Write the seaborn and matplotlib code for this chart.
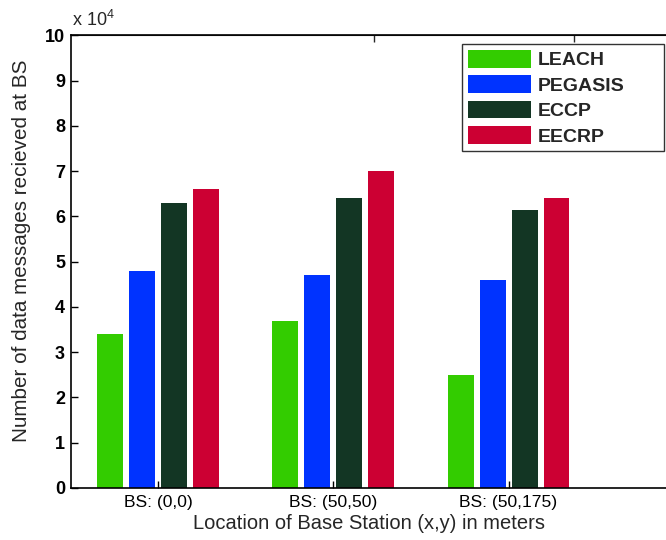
import pandas as pd
import seaborn as sns
import matplotlib.pyplot as plt
from matplotlib.ticker import FuncFormatter

locations = ["BS: (0,0)", "BS: (50,50)", "BS: (50,175)"]
protocols = ["LEACH", "PEGASIS", "ECCP", "EECRP"]
leach = [34000, 37000, 25000]
pegasis = [48000, 47000, 46000]
eccp = [63000, 64000, 61500]
eecrp = [66000, 70000, 64000]
colors = ["#33cc00", "#0033ff", "#133624", "#cc0033"]

rows = []
for proto, vals in zip(protocols, [leach, pegasis, eccp, eecrp]):
    for loc, v in zip(locations, vals):
        rows.append({"loc": loc, "proto": proto, "msgs": v})
df = pd.DataFrame(rows)

sns.set_style("white")
plt.rcParams["font.family"] = ["Liberation Sans", "DejaVu Sans"]
plt.rcParams["mathtext.fontset"] = "custom"
plt.rcParams["mathtext.rm"] = "Liberation Sans"

fig = plt.figure(figsize=(6.66, 5.4), dpi=100)
ax = fig.add_axes([0.106, 0.0963, 0.897, 0.8380])

sns.barplot(data=df, x="loc", y="msgs", hue="proto", hue_order=protocols,
            palette=colors, saturation=1, errorbar=None, width=0.73, gap=0.19,
            linewidth=0, ax=ax)

ax.set_xlim(-0.5, 2.91)
ax.set_ylim(0, 100000)
ax.set_yticks(range(0, 100001, 10000))
ax.yaxis.set_major_formatter(FuncFormatter(lambda v, p: f"{v / 1e4:g}"))
for lab in ax.get_yticklabels():
    lab.set_fontweight("bold")
ax.tick_params(axis="y", direction="in", length=5, width=1, labelsize=13,
               left=True, pad=4, colors="black")
ax.tick_params(axis="x", direction="in", length=5, width=1, labelsize=12.6,
               bottom=True, pad=5, colors="black")

for s in ["left", "bottom", "top"]:
    ax.spines[s].set_color("black")
    ax.spines[s].set_linewidth(1.2)
ax.spines["right"].set_visible(False)

top = ax.secondary_xaxis("top")
top.set_xticks([1.233, 2.376])
top.set_xticklabels([])
top.tick_params(direction="in", length=5, width=1)

ax.text(0.002, 1.012, r"x 10$^{4}$", transform=ax.transAxes, fontsize=13,
        ha="left", va="bottom")

ax.set_xlabel("Location of Base Station (x,y) in meters", fontsize=14.5, labelpad=3)
ax.set_ylabel("Number of data messages recieved at BS", fontsize=14.9)
ax.yaxis.set_label_coords(-0.066, 0.524)

leg = ax.legend(loc="upper left", bbox_to_anchor=(0.655, 0.743, 0.3377, 0.238),
                mode="expand", frameon=True, fancybox=False, fontsize=14,
                handlelength=3.25, handleheight=1.03, labelspacing=0.3,
                handletextpad=0.35, borderpad=0.3, borderaxespad=0)
leg.get_frame().set_edgecolor("black")
leg.get_frame().set_linewidth(1)
for t in leg.get_texts():
    t.set_fontweight("bold")

fig.savefig("out.png", dpi=100)
